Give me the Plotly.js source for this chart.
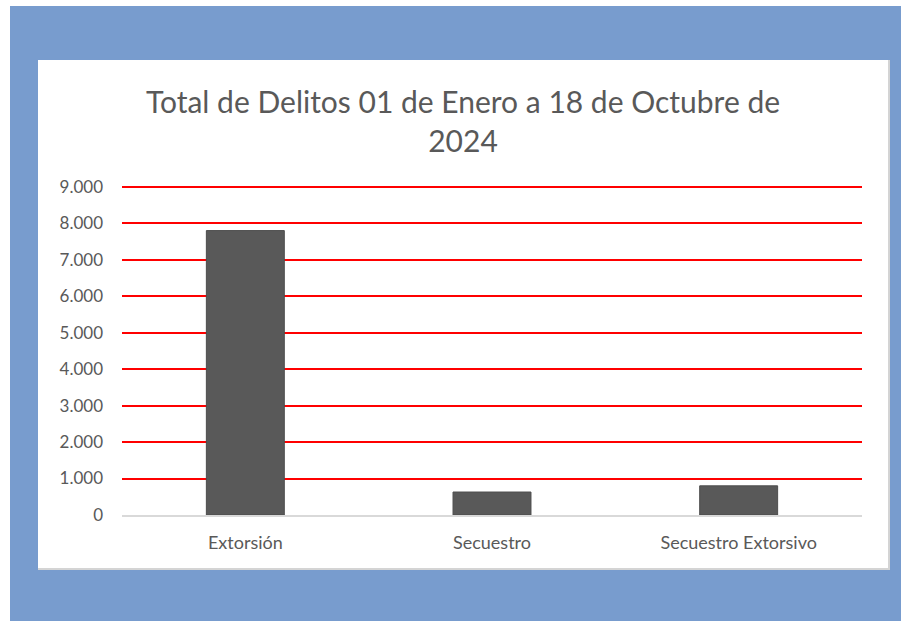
<!DOCTYPE html>
<html>
<head>
<meta charset="utf-8">
<script src="https://cdn.plot.ly/plotly-3.0.1.min.js"></script>
<style>
  html, body { margin: 0; padding: 0; background: #ffffff; width: 901px; height: 621px; overflow: hidden; }
  #bg { position: absolute; left: 10px; top: 6px; width: 891px; height: 615px; background: #789cce; }
  #panel { position: absolute; left: 38px; top: 60px; width: 850px; height: 508px; background: #ffffff;
           border-right: 2px solid #d4d4d4; border-bottom: 2px solid #d4d4d4; }
  #chart { position: absolute; left: 0; top: 0; width: 850px; height: 508px; }
</style>
</head>
<body>
<div id="bg"></div>
<div id="panel"><div id="chart"></div></div>
<script>
const categories = ["Extorsión", "Secuestro", "Secuestro Extorsivo"];
const totals = [7800, 630, 800];
const tickValues = [0, 1000, 2000, 3000, 4000, 5000, 6000, 7000, 8000, 9000];
const tickLabels = ["0", "1.000", "2.000", "3.000", "4.000", "5.000", "6.000", "7.000", "8.000", "9.000"];
const chartTitle = "Total de Delitos 01 de Enero a 18 de Octubre de<br>2024";

const font = "Lato, 'Open Sans', sans-serif";

Plotly.newPlot("chart", [{
  type: "bar",
  x: categories,
  y: totals,
  marker: { color: "#595959", line: { color: "#4d4d4d", width: 1 } },
  hoverinfo: "x+y"
}], {
  width: 850, height: 508,
  paper_bgcolor: "#ffffff",
  plot_bgcolor: "#ffffff",
  margin: { l: 84, r: 26, t: 125, b: 53 },
  bargap: 0.684,
  showlegend: false,
  title: {
    text: chartTitle,
    font: { family: font, size: 30, color: "#595959" },
    x: 0.5, xanchor: "center",
    xref: "container",
    yref: "container",
    y: 0.895, yanchor: "top"
  },
  xaxis: {
    type: "category",
    showgrid: false,
    showline: true,
    linecolor: "#d9d9d9",
    linewidth: 2,
    ticks: "",
    tickfont: { family: font, size: 18, color: "#595959" },
    ticklabelstandoff: 10
  },
  yaxis: {
    range: [0, 9050],
    tickvals: tickValues,
    ticktext: tickLabels,
    showgrid: true,
    gridcolor: "#ff0000",
    gridwidth: 2,
    zeroline: false,
    showline: false,
    ticks: "",
    tickfont: { family: font, size: 17, color: "#595959" },
    ticklabelstandoff: 18
  }
}, { displayModeBar: false, staticPlot: true });
</script>
</body>
</html>
